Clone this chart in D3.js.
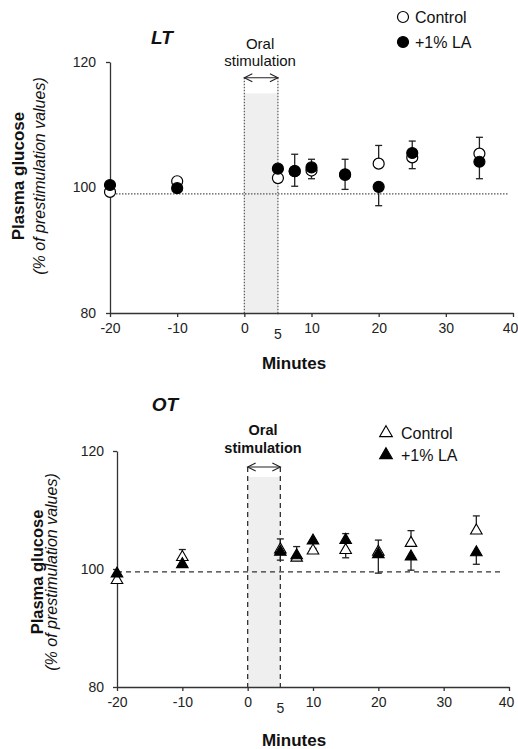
<!DOCTYPE html>
<html><head><meta charset="utf-8">
<script src="https://cdn.jsdelivr.net/npm/d3@7"></script>
<style>
html,body{margin:0;padding:0;background:#fff;}
svg{display:block;font-family:"Liberation Sans",Arial,sans-serif;}
</style></head>
<body>
<svg id="chart" width="518" height="749"></svg>
<script>
// ---- data ----
const minutes = [-20, -10, 5, 7.5, 10, 15, 20, 25, 35];
const xTicks = [-20, -10, 0, 10, 20, 30, 40];
const yTicks = [80, 100, 120];
const seriesNames = ["Control", "+1% LA"];

const ltControl = [99.3, 101.0, 101.5, 102.6, 102.7, 102.0, 103.8, 104.8, 105.4];
const ltControlErr = [0, 0, 0, 2.7, 1.8, 2.5, 2.9, 2.6, 2.6];
const ltLA = [100.4, 99.9, 103.0, 102.6, 103.2, 102.1, 100.1, 105.5, 104.1];
const ltLAErr = [0, 0, 0, 2.4, 1.8, 2.4, 3.0, 2.5, 2.7];

const otControl = [98.1, 102.0, 103.3, 101.9, 103.1, 103.2, 102.9, 104.4, 106.5];
const otControlErr = [0, 1.3, 1.8, 1.9, 0.4, 2.8, 2.0, 2.1, 2.5];
const otLA = [99.2, 100.8, 102.9, 102.3, 104.8, 104.9, 102.5, 102.1, 102.8];
const otLAErr = [0, 0.3, 1.4, 0.7, 0.4, 3.0, 3.2, 2.3, 2.0];

const stimWindow = [0, 5];
const ltRef = 99.0, otRef = 99.5;
const ltShadeTop = 115.0, otShadeTop = 115.6;
const ltArrowY = 117.5, otArrowY = 117.3;

const svg = d3.select("#chart");

function panel(cfg) {
  const g = svg.append("g");
  const x = d3.scaleLinear().domain([-20, 40]).range(cfg.xr);
  const y = d3.scaleLinear().domain([80, 120]).range(cfg.yr);

  // shaded stimulation window
  g.append("rect")
    .attr("x", x(stimWindow[0])).attr("width", x(stimWindow[1]) - x(stimWindow[0]))
    .attr("y", y(cfg.shadeTop)).attr("height", y(80) - y(cfg.shadeTop))
    .attr("fill", "#efefef");

  // vertical lines at 0 and 5
  stimWindow.forEach(v => {
    g.append("line")
      .attr("x1", x(v)).attr("x2", x(v))
      .attr("y1", y(cfg.arrowY)).attr("y2", y(80) + 2)
      .attr("stroke", cfg.dotStroke).attr("stroke-width", cfg.dotW)
      .attr("stroke-dasharray", cfg.dash);
  });

  // reference line
  g.append("line")
    .attr("x1", x(-20)).attr("x2", x(39.2))
    .attr("y1", y(cfg.ref)).attr("y2", y(cfg.ref))
    .attr("stroke", cfg.dotStroke).attr("stroke-width", cfg.dotW)
    .attr("stroke-dasharray", cfg.dash);

  // double arrow
  const ay = y(cfg.arrowY), ax0 = x(stimWindow[0]), ax1 = x(stimWindow[1]);
  g.append("line").attr("x1", ax0).attr("x2", ax1).attr("y1", ay).attr("y2", ay)
    .attr("stroke", "#222").attr("stroke-width", 1.1);
  g.append("path").attr("d", `M${ax0+8},${ay-4}L${ax0},${ay}L${ax0+8},${ay+4}`)
    .attr("fill", "none").attr("stroke", "#222").attr("stroke-width", 1.1);
  g.append("path").attr("d", `M${ax1-8},${ay-4}L${ax1},${ay}L${ax1-8},${ay+4}`)
    .attr("fill", "none").attr("stroke", "#222").attr("stroke-width", 1.1);

  // stimulation label
  const cx = (ax0 + ax1) / 2 - 1;
  g.append("text").attr("x", cx).attr("y", cfg.oralY).attr("text-anchor", "middle")
    .attr("font-size", cfg.oralSize).attr("font-weight", cfg.oralWeight).attr("fill", "#111").text("Oral");
  g.append("text").attr("x", cx).attr("y", cfg.oralY + cfg.oralGap).attr("text-anchor", "middle")
    .attr("font-size", cfg.oralSize).attr("font-weight", cfg.oralWeight).attr("fill", "#111").text("stimulation");

  // axes
  const fmt = d => String(d);
  const yAxis = d3.axisLeft(y).tickValues(yTicks).tickFormat(fmt).tickSize(4).tickSizeOuter(0).tickPadding(cfg.yPad);
  const yg = g.append("g").attr("transform", `translate(${x(-20)},0)`).call(yAxis);
  const xAxis = d3.axisBottom(x).tickValues(xTicks).tickFormat(fmt).tickSize(4).tickSizeOuter(0).tickPadding(6);
  const xg = g.append("g").attr("transform", `translate(0,${y(80)})`).call(xAxis);
  [yg, xg].forEach(a => {
    a.select(".domain").attr("stroke", "#333").attr("stroke-width", 1.3);
    a.selectAll(".tick line").attr("stroke", "#333").attr("stroke-width", 1.3);
    a.selectAll(".tick text").attr("font-size", 14).attr("fill", "#222")
      .attr("font-family", "'Liberation Sans',Arial,sans-serif");
  });
  // keep the last label inside the page
  xg.selectAll(".tick text").filter(d => d === 40).attr("dx", -3);
  // extra "5" label
  g.append("text").attr("x", x(5)).attr("y", y(80) + 26).attr("text-anchor", "middle")
    .attr("font-size", 14).attr("fill", "#222").text("5");

  // error bars
  function errBars(vals, errs, dir) {
    minutes.forEach((m, i) => {
      if (!errs[i]) return;
      const y0 = y(vals[i]), y1 = y(vals[i] + dir * errs[i]);
      g.append("line").attr("x1", x(m)).attr("x2", x(m)).attr("y1", y0).attr("y2", y1)
        .attr("stroke", "#222").attr("stroke-width", 1.3);
      g.append("line").attr("x1", x(m) - 3.5).attr("x2", x(m) + 3.5).attr("y1", y1).attr("y2", y1)
        .attr("stroke", "#222").attr("stroke-width", 1.3);
    });
  }
  errBars(cfg.ctrl, cfg.ctrlErr, 1);
  errBars(cfg.la, cfg.laErr, -1);

  function marker(sel, filled) {
    if (cfg.shape === "circle") {
      sel.append("circle").attr("r", 5.5)
        .attr("fill", filled ? "#000" : "#fff").attr("stroke", "#000").attr("stroke-width", 1.2);
    } else {
      sel.append("path").attr("d", d3.symbol(d3.symbolTriangle, 58)())
        .attr("fill", filled ? "#000" : "#fff").attr("stroke", "#000").attr("stroke-width", 1.1);
    }
  }
  [[cfg.ctrl, false], [cfg.la, true]].forEach(([vals, filled]) => {
    minutes.forEach((m, i) => {
      const s = g.append("g").attr("transform", `translate(${x(m)},${y(vals[i])})`);
      marker(s, filled);
    });
  });

  // legend
  seriesNames.forEach((nm, i) => {
    const ly = cfg.legY + i * cfg.legGap;
    const s = g.append("g").attr("transform", `translate(${cfg.legX},${ly})`);
    if (cfg.shape === "circle") {
      s.append("circle").attr("r", 5.5).attr("fill", i ? "#000" : "#fff").attr("stroke", "#000").attr("stroke-width", 1.2);
    } else {
      s.append("path").attr("d", d3.symbol(d3.symbolTriangle, 70)())
        .attr("fill", i ? "#000" : "#fff").attr("stroke", "#000").attr("stroke-width", 1.1);
    }
    g.append("text").attr("x", cfg.legX + cfg.legTextDx).attr("y", ly + 6)
      .attr("font-size", 16).attr("fill", "#111").text(nm);
  });

  // title
  g.append("text").attr("x", cfg.titleX).attr("y", cfg.titleY).attr("text-anchor", "middle")
    .attr("font-size", 19).attr("font-weight", "bold").attr("font-style", "italic").attr("fill", "#111")
    .text(cfg.title);

  // y label
  g.append("text").attr("transform", `translate(${cfg.ylab1X},${cfg.ylabY}) rotate(-90)`)
    .attr("text-anchor", "middle").attr("font-size", cfg.ylabSize).attr("font-weight", "bold").attr("fill", "#111")
    .text("Plasma glucose");
  g.append("text").attr("transform", `translate(${cfg.ylab2X},${cfg.ylabY}) rotate(-90)`)
    .attr("text-anchor", "middle").attr("font-size", 16).attr("font-style", "italic").attr("fill", "#111")
    .text("(% of prestimulation values)");

  // x label
  g.append("text").attr("x", 294).attr("y", cfg.xlabY).attr("text-anchor", "middle")
    .attr("font-size", 17).attr("font-weight", "bold").attr("fill", "#111").text("Minutes");
}

panel({
  xr: [110, 513], yr: [313, 62],
  ctrl: ltControl, ctrlErr: ltControlErr, la: ltLA, laErr: ltLAErr,
  shape: "circle", ref: ltRef, shadeTop: ltShadeTop, arrowY: ltArrowY,
  dash: "1.5,1.5", dotStroke: "#555", dotW: 1.2,
  oralY: 49, oralGap: 17, oralSize: 15, oralWeight: "normal",
  yPad: 10,
  legX: 403, legY: 17, legGap: 25, legTextDx: 12,
  title: "LT", titleX: 162, titleY: 44,
  ylab1X: 24, ylab2X: 45, ylabY: 176, ylabSize: 17,
  xlabY: 369
});

panel({
  xr: [117, 509], yr: [687, 451],
  ctrl: otControl, ctrlErr: otControlErr, la: otLA, laErr: otLAErr,
  shape: "triangle", ref: otRef, shadeTop: otShadeTop, arrowY: otArrowY,
  dash: "5,4", dotStroke: "#333", dotW: 1.3,
  oralY: 435, oralGap: 18, oralSize: 14.5, oralWeight: "bold",
  yPad: 9,
  legX: 386, legY: 433, legGap: 22, legTextDx: 15,
  title: "OT", titleX: 165, titleY: 411,
  ylab1X: 43, ylab2X: 57, ylabY: 572, ylabSize: 16.5,
  xlabY: 746
});
</script>
</body></html>
